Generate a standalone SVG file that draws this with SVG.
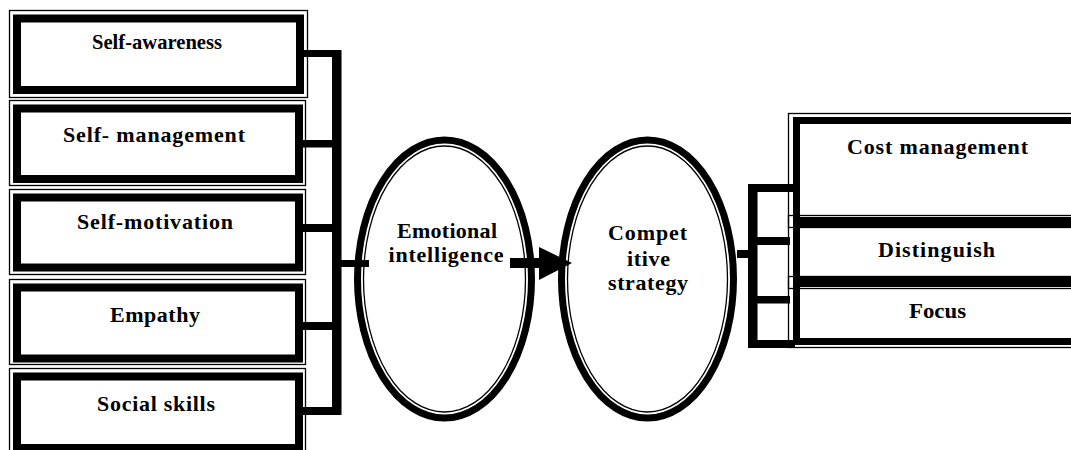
<svg xmlns="http://www.w3.org/2000/svg" width="1071" height="450" viewBox="0 0 1071 450">
  <style>
    .thin { fill: none; stroke: #000; stroke-width: 1.3; }
    .thick { fill: none; stroke: #000; stroke-width: 8; }
    .ring { fill: none; stroke: #000; stroke-width: 7; }
    .bar { fill: #000; }
    .lbl { font-family: "Liberation Serif", "Times New Roman", serif; font-weight: bold; font-size: 22px; text-anchor: middle; fill: #000; }
  </style>
  <rect width="1071" height="450" fill="#fff"/>

  <!-- emotional intelligence components -->
  <g id="self-awareness">
    <rect class="thin" x="9.5" y="10.5" width="298" height="87"/>
    <rect class="thick" x="17" y="18.5" width="283" height="71.5"/>
    <text class="lbl" x="157" y="49" font-size="20.5" textLength="130" lengthAdjust="spacingAndGlyphs">Self-awareness</text>
  </g>
  <g id="self-management">
    <rect class="thin" x="9.5" y="100.5" width="296" height="85"/>
    <rect class="thick" x="17" y="108.5" width="282" height="70.5"/>
    <text class="lbl" x="154" y="142" textLength="182" lengthAdjust="spacing">Self- management</text>
  </g>
  <g id="self-motivation">
    <rect class="thin" x="9.5" y="189.5" width="296" height="85"/>
    <rect class="thick" x="17" y="197.5" width="282" height="70"/>
    <text class="lbl" x="155" y="229" textLength="156" lengthAdjust="spacing">Self-motivation</text>
  </g>
  <g id="empathy">
    <rect class="thin" x="9.5" y="279.5" width="296" height="85"/>
    <rect class="thick" x="17" y="287.5" width="282" height="71"/>
    <text class="lbl" x="155" y="322" textLength="90" lengthAdjust="spacing">Empathy</text>
  </g>
  <g id="social-skills">
    <rect class="thin" x="9.5" y="368.5" width="296" height="90"/>
    <rect class="thick" x="17" y="376.5" width="282" height="71.5"/>
    <text class="lbl" x="156" y="411" textLength="118" lengthAdjust="spacing">Social skills</text>
  </g>

  <!-- central concepts -->
  <g id="emotional-intelligence">
    <ellipse class="ring" cx="444.5" cy="279" rx="87" ry="139"/>
    <ellipse class="thin" cx="444.5" cy="279" rx="81" ry="133"/>
    <text class="lbl" x="447" y="238" textLength="100" lengthAdjust="spacing">Emotional</text>
    <text class="lbl" x="446" y="262" textLength="115" lengthAdjust="spacing">intelligence</text>
  </g>
  <g id="competitive-strategy">
    <ellipse class="ring" cx="647.5" cy="279" rx="86" ry="139"/>
    <ellipse class="thin" cx="647.5" cy="279" rx="80" ry="133"/>
    <text class="lbl" x="647.5" y="240" textLength="79" lengthAdjust="spacing">Compet</text>
    <text class="lbl" x="648.5" y="266" textLength="43" lengthAdjust="spacing">itive</text>
    <text class="lbl" x="648" y="290" textLength="80" lengthAdjust="spacing">strategy</text>
  </g>

  <!-- strategy options -->
  <g id="cost-management">
    <rect class="thin" x="788.5" y="113.5" width="300" height="114"/>
    <rect class="ring" x="796.5" y="120.5" width="300" height="100"/>
    <text class="lbl" x="937.5" y="154" textLength="181" lengthAdjust="spacing">Cost management</text>
  </g>
  <g id="distinguish">
    <rect class="thin" x="788.5" y="215.5" width="300" height="73"/>
    <rect class="ring" x="796.5" y="224.5" width="300" height="56"/>
    <text class="lbl" x="936.5" y="257" textLength="117" lengthAdjust="spacing">Distinguish</text>
  </g>
  <g id="focus">
    <rect class="thin" x="788.5" y="276.5" width="300" height="71"/>
    <rect class="ring" x="796.5" y="283.5" width="300" height="58"/>
    <text class="lbl" x="937.5" y="318" textLength="57" lengthAdjust="spacingAndGlyphs">Focus</text>
  </g>

  <!-- connectors -->
  <g id="connectors">
    <!-- bracket joining the five components -->
    <rect class="bar" x="332" y="50" width="9.5" height="365"/>
    <rect class="bar" x="303" y="50" width="35" height="7"/>
    <rect class="bar" x="302" y="140" width="36" height="7.5"/>
    <rect class="bar" x="302" y="224" width="36" height="8"/>
    <rect class="bar" x="302" y="322" width="36" height="8"/>
    <rect class="bar" x="302" y="407" width="36" height="8"/>
    <rect class="bar" x="338" y="260" width="31" height="7"/>

    <!-- arrow between the two concepts -->
    <rect class="bar" x="510" y="258" width="31" height="10"/>
    <polygon class="bar" points="539,247 572,263 539,280"/>

    <!-- bracket fanning out to the strategy options -->
    <rect class="bar" x="737" y="250" width="12" height="8"/>
    <rect class="bar" x="748" y="184" width="9.5" height="164"/>
    <rect class="bar" x="748" y="184" width="45" height="8"/>
    <rect class="bar" x="748" y="237" width="42" height="8"/>
    <rect class="bar" x="748" y="296" width="42" height="7.5"/>
    <rect class="bar" x="748" y="340" width="47" height="8"/>
  </g>
</svg>
